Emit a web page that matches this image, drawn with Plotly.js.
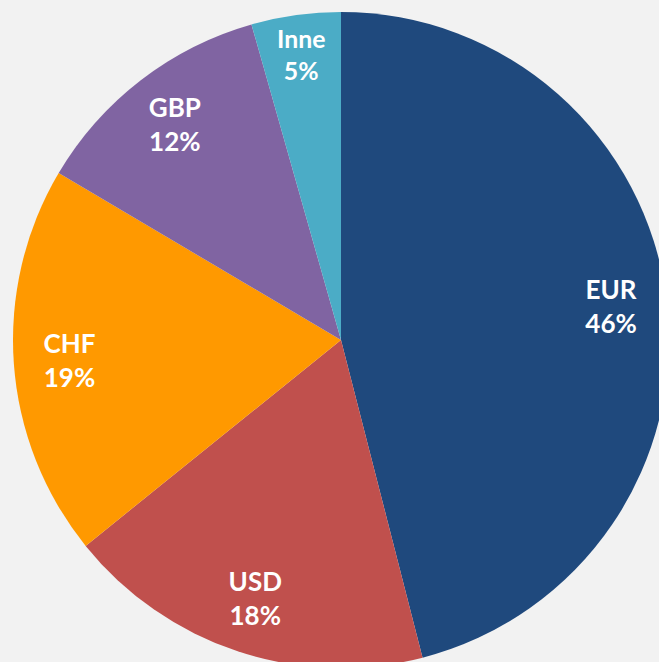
<!DOCTYPE html>
<html><head><meta charset="utf-8">
<script src="https://cdn.plot.ly/plotly-3.0.1.min.js"></script>
<style>html,body{margin:0;padding:0;background:#F2F2F2;overflow:hidden;width:659px;height:662px}</style>
</head><body><div id="chart" style="width:682px;height:680px"></div>
<script>
const labels = ["EUR", "USD", "CHF", "GBP", "Inne"];
const values = [46.0, 18.2, 19.3, 12.1, 4.4];
const shareLabels = ["46%", "18%", "19%", "12%", "5%"];
const colors = ["#1F497D", "#C0504D", "#FF9900", "#8064A2", "#4BACC6"];

const common = {
  type: "pie",
  labels: labels,
  values: values,
  sort: false,
  direction: "clockwise",
  rotation: 0,
  hoverinfo: "none",
  showlegend: false
};

Plotly.newPlot("chart", [
  Object.assign({}, common, {
    marker: {colors: colors, line: {width: 0}},
    textinfo: "none"
  }),
  Object.assign({}, common, {
    hole: 0.66,
    marker: {colors: labels.map(() => "rgba(0,0,0,0)"), line: {width: 0}},
    customdata: shareLabels,
    texttemplate: "<b>%{label}</b><br><b>%{customdata}</b>",
    textposition: "inside",
    insidetextorientation: "horizontal",
    textfont: {family: "Lato, 'Open Sans', sans-serif", size: 26, color: "#FFFFFF"}
  })
], {
  width: 682, height: 680,
  margin: {l: 13, r: 13, t: 12, b: 12},
  paper_bgcolor: "#F2F2F2",
  plot_bgcolor: "#F2F2F2",
  showlegend: false
}, {displayModeBar: false, staticPlot: true});
</script></body></html>
